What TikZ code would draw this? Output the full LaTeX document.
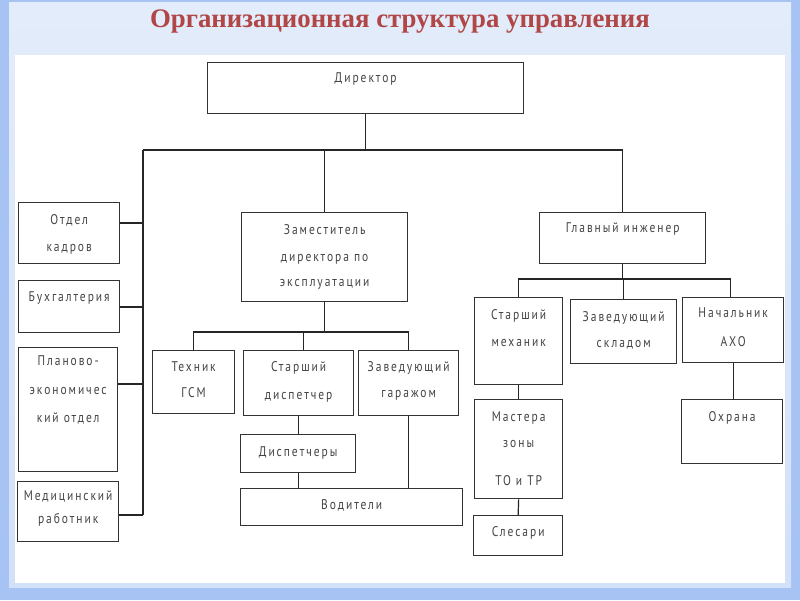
\documentclass[tikz,border=0pt]{standalone}
\usepackage{fontspec}
\setmainfont{PT Sans}
\newfontfamily\titlefont{Liberation Serif}
\newfontfamily\boxfont[LetterSpace=14, FakeStretch=0.82]{PT Sans}
\usetikzlibrary{calc}
\definecolor{framedark}{HTML}{A6C3F3}
\definecolor{frametop}{HTML}{E3ECFA}
\definecolor{framebot}{HTML}{D2E0F8}
\definecolor{titlered}{HTML}{B04646}
\definecolor{txtgray}{HTML}{444444}
\definecolor{boxline}{HTML}{333333}
\tikzset{
  box/.style={draw=boxline, line width=1.3pt, rectangle, inner sep=0pt, anchor=north west, fill=white},
  txt/.style={font=\boxfont\fontsize{14}{16}\selectfont, text=txtgray, inner sep=0pt, anchor=base},
  con/.style={draw=black!85, line width=1.2pt}
}
\begin{document}
\begin{tikzpicture}[x=1pt,y=-1pt]
\useasboundingbox (0,0) rectangle (800,600);
% background
\fill[framedark] (0,0) rectangle (800,600);
\shade[top color=frametop, bottom color=framebot] (9,2) rectangle (791,587);
\fill[white] (15,55) rectangle (785,583);
% title
\node[font=\titlefont\bfseries\fontsize{26.8}{30}\selectfont, text=titlered, inner sep=0pt] (title) at (400,22) {Организационная структура управления};
% boxes
\node[box, minimum width=316pt, minimum height=51pt] (dir) at (207,62) {};
\node[box, minimum width=101pt, minimum height=61pt] (kadr) at (18,202) {};
\node[box, minimum width=101pt, minimum height=52pt] (buh) at (18,280) {};
\node[box, minimum width=99pt, minimum height=124pt] (plan) at (18,347) {};
\node[box, minimum width=101pt, minimum height=60pt] (med) at (17,481) {};
\node[box, minimum width=166pt, minimum height=89pt] (zam) at (241,212) {};
\node[box, minimum width=82pt, minimum height=63pt] (teh) at (152,350) {};
\node[box, minimum width=110pt, minimum height=65pt] (stdisp) at (243,350) {};
\node[box, minimum width=100pt, minimum height=65pt] (zavgar) at (358,350) {};
\node[box, minimum width=115pt, minimum height=38pt] (disp) at (240,434) {};
\node[box, minimum width=222pt, minimum height=37pt] (vod) at (240,488) {};
\node[box, minimum width=166pt, minimum height=51pt] (glav) at (539,212) {};
\node[box, minimum width=88pt, minimum height=87pt] (stmeh) at (474,297) {};
\node[box, minimum width=106pt, minimum height=64pt] (zavskl) at (570,299) {};
\node[box, minimum width=101pt, minimum height=65pt] (aho) at (682,297) {};
\node[box, minimum width=88pt, minimum height=99pt] (master) at (474,399) {};
\node[box, minimum width=89pt, minimum height=40pt] (sles) at (473,515) {};
\node[box, minimum width=101pt, minimum height=64pt] (ohr) at (681,399) {};
% texts
\node[txt] (dir-a) at ($(dir.north)+(0,20)$) {Директор};
\node[txt] (kadr-a) at ($(kadr.north)+(0,22)$) {Отдел};
\node[txt] (kadr-b) at ($(kadr.north)+(0,49)$) {кадров};
\node[txt] (buh-a) at ($(buh.north)+(0,21)$) {Бухгалтерия};
\node[txt] (plan-a) at ($(plan.north)+(0,18)$) {Планово-};
\node[txt] (plan-b) at ($(plan.north)+(0,47)$) {экономичес};
\node[txt] (plan-c) at ($(plan.north)+(0,75)$) {кий отдел};
\node[txt] (med-a) at ($(med.north)+(0,19)$) {Медицинский};
\node[txt] (med-b) at ($(med.north)+(0,42)$) {работник};
\node[txt] (zam-a) at ($(zam.north)+(0,22)$) {Заместитель};
\node[txt] (zam-b) at ($(zam.north)+(0,49)$) {директора по};
\node[txt] (zam-c) at ($(zam.north)+(0,74)$) {эксплуатации};
\node[txt] (teh-a) at ($(teh.north)+(0,21)$) {Техник};
\node[txt] (teh-b) at ($(teh.north)+(0,47)$) {ГСМ};
\node[txt] (stdisp-a) at ($(stdisp.north)+(0,21)$) {Старший};
\node[txt] (stdisp-b) at ($(stdisp.north)+(0,49)$) {диспетчер};
\node[txt] (zavgar-a) at ($(zavgar.north)+(0,21)$) {Заведующий};
\node[txt] (zavgar-b) at ($(zavgar.north)+(0,47)$) {гаражом};
\node[txt] (disp-a) at ($(disp.north)+(0,22)$) {Диспетчеры};
\node[txt] (vod-a) at ($(vod.north)+(0,21)$) {Водители};
\node[txt] (glav-a) at ($(glav.north)+(0,20)$) {Главный инженер};
\node[txt] (stmeh-a) at ($(stmeh.north)+(0,22)$) {Старший};
\node[txt] (stmeh-b) at ($(stmeh.north)+(0,49)$) {механик};
\node[txt] (zavskl-a) at ($(zavskl.north)+(0,22)$) {Заведующий};
\node[txt] (zavskl-b) at ($(zavskl.north)+(0,48)$) {складом};
\node[txt] (aho-a) at ($(aho.north)+(0,20)$) {Начальник};
\node[txt] (aho-b) at ($(aho.north)+(0,49)$) {АХО};
\node[txt] (master-a) at ($(master.north)+(0,22)$) {Мастера};
\node[txt] (master-b) at ($(master.north)+(0,48)$) {зоны};
\node[txt] (master-c) at ($(master.north)+(0,86)$) {ТО и ТР};
\node[txt] (sles-a) at ($(sles.north)+(0,21)$) {Слесари};
\node[txt] (ohr-a) at ($(ohr.north)+(0,22)$) {Охрана};
% connectors
\coordinate (h0) at (143,150);
\coordinate (sp) at (143,515);
\coordinate (j1) at (0,332);
\coordinate (j2) at (0,279);
\draw[con] (dir.south) -- (dir.south |- h0);
\draw[con] (h0) -- (h0 -| glav.north) -- (glav.north);
\draw[con] (h0 -| zam.north) -- (zam.north);
\draw[con] (h0) -- (sp);
\draw[con] (kadr.east |- 0,223) -- (h0 |- 0,223);
\draw[con] (buh.east |- 0,307) -- (h0 |- 0,307);
\draw[con] (plan.east |- 0,384) -- (h0 |- 0,384);
\draw[con] (med.east |- sp) -- (sp);
\draw[con] (zam.south) -- (zam.south |- j1);
\draw[con] (teh.north) -- (teh.north |- j1) -- (zavgar.north |- j1) -- (zavgar.north);
\draw[con] ([xshift=5pt]stdisp.north |- j1) -- ([xshift=5pt]stdisp.north);
\draw[con] (stdisp.south) -- (stdisp.south |- disp.north);
\draw[con] (disp.south) -- (disp.south |- vod.north);
\draw[con] (zavgar.south) -- (zavgar.south |- vod.north);
\draw[con] (glav.south) -- (glav.south |- j2);
\draw[con] (stmeh.north) -- (stmeh.north |- j2) -- ([xshift=-2.5pt]aho.north |- j2) -- ([xshift=-2.5pt]aho.north);
\draw[con] (zavskl.north |- j2) -- (zavskl.north);
\draw[con] (stmeh.south) -- (master.north);
\draw[con] (master.south) -- (sles.north);
\draw[con] (aho.south) -- (aho.south |- ohr.north);
\end{tikzpicture}
\end{document}
